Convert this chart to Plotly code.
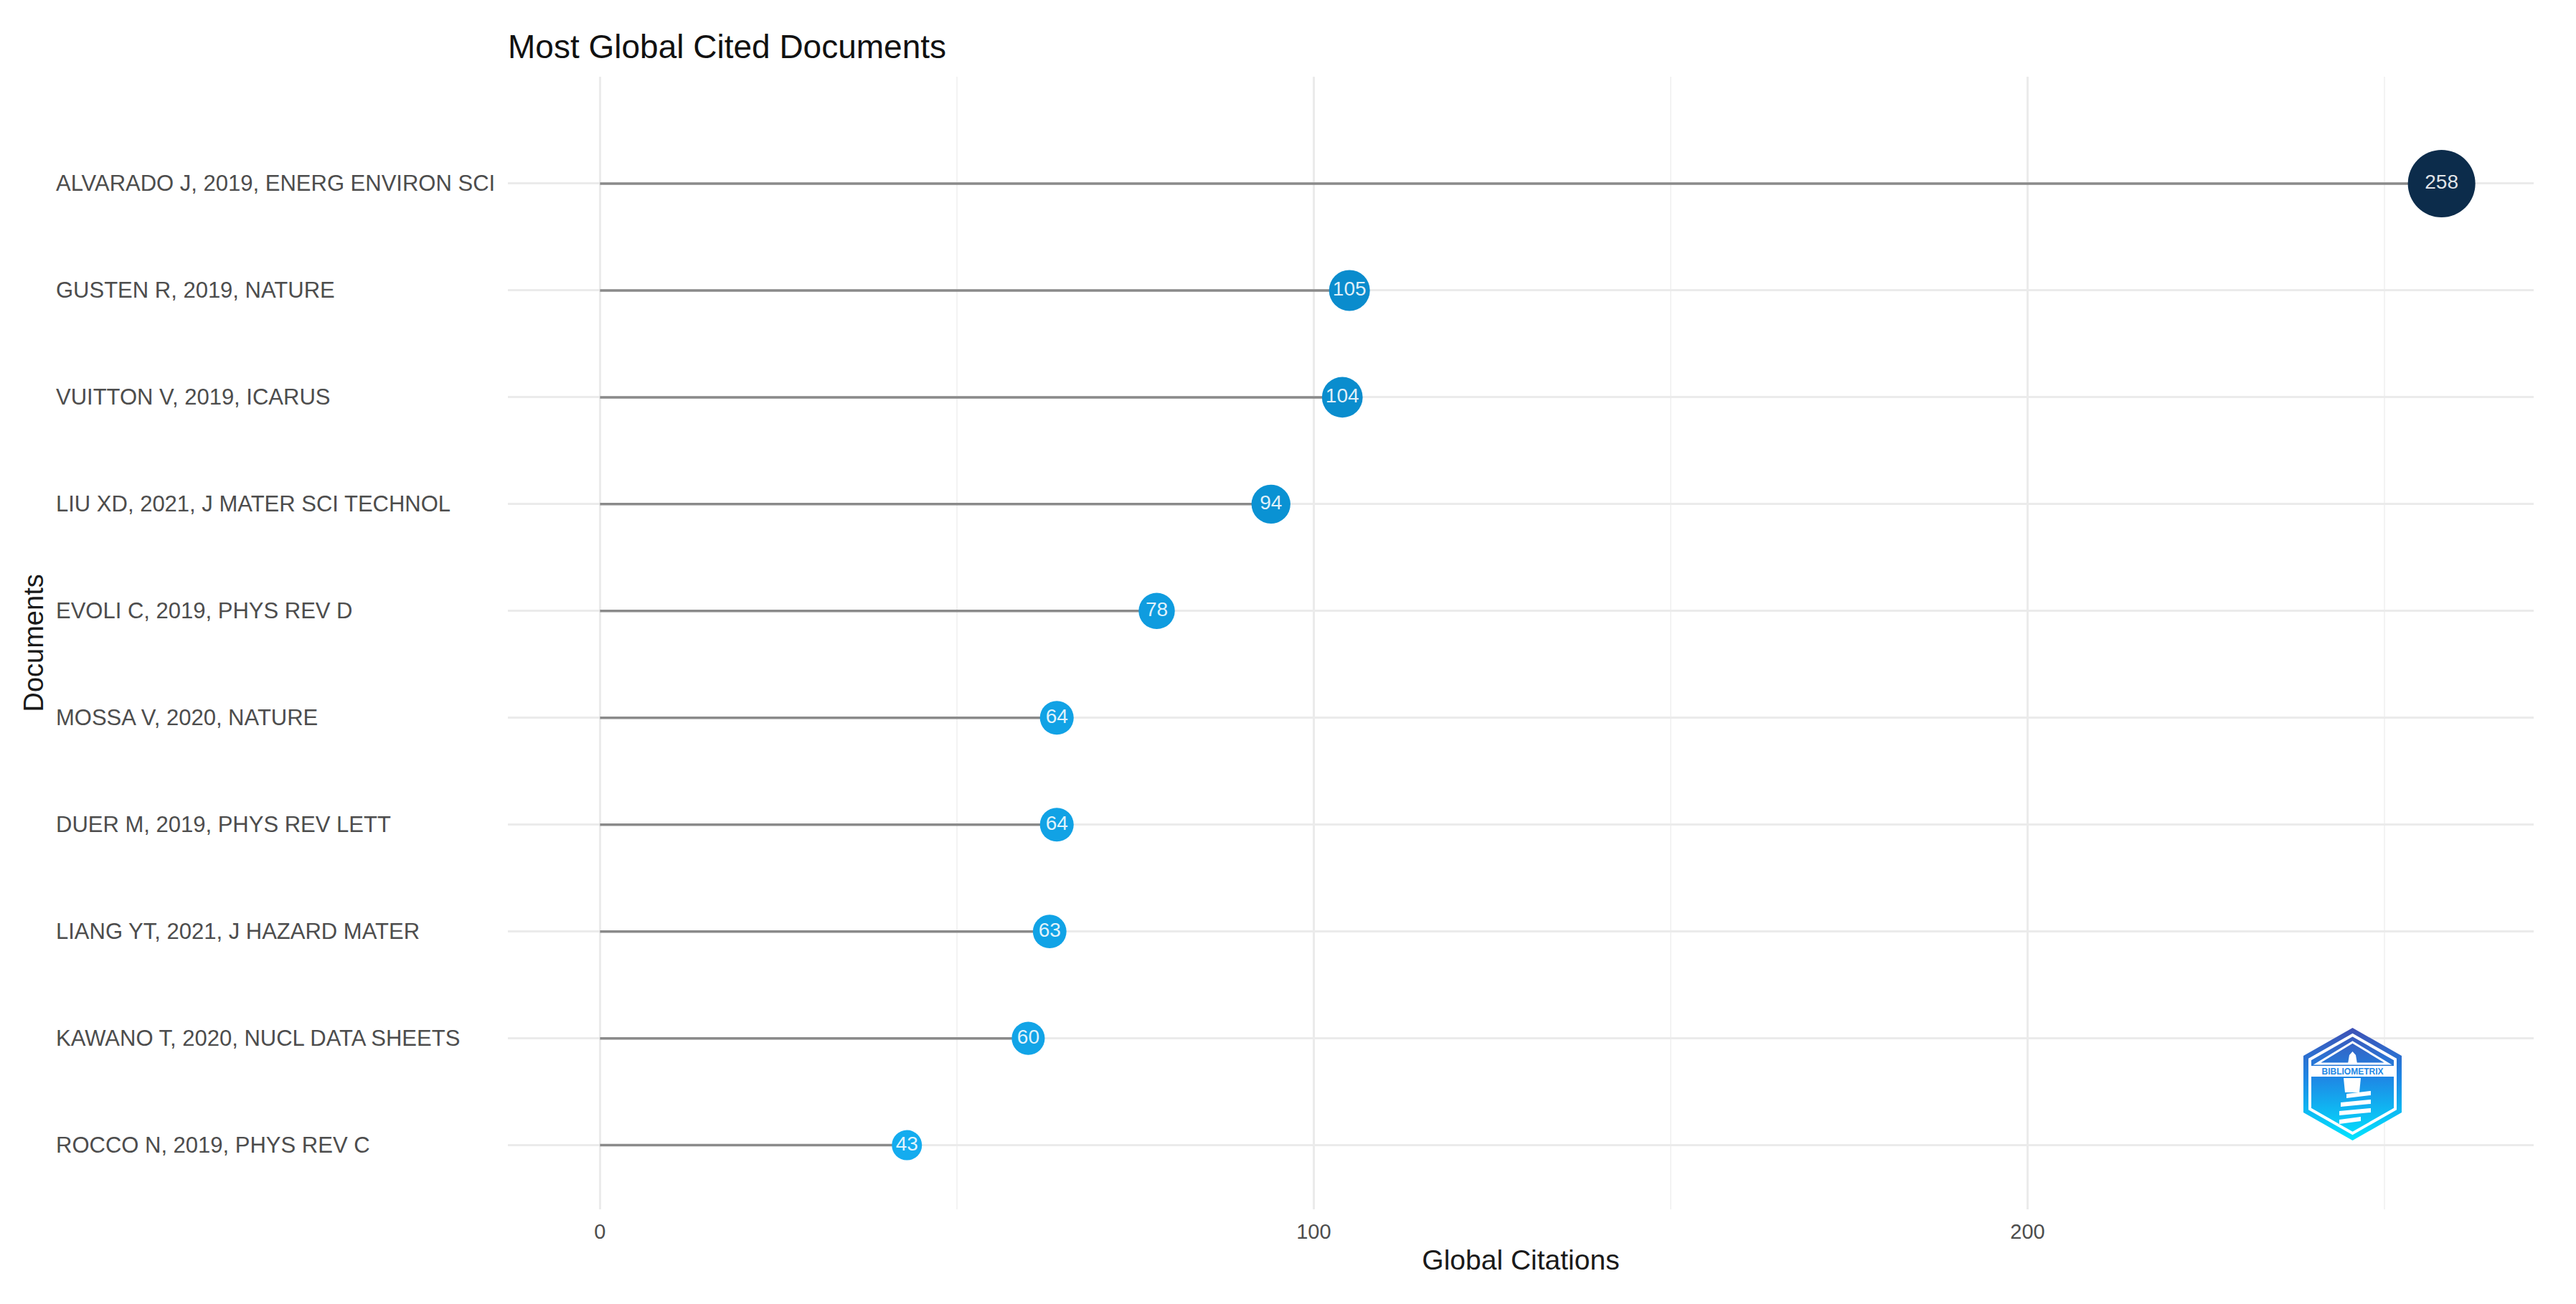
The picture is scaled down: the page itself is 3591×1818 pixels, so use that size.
import base64
import plotly.graph_objects as go

# ---- data (top of chart first) ----
documents = [
    "ALVARADO J, 2019, ENERG ENVIRON SCI",
    "GUSTEN R, 2019, NATURE",
    "VUITTON V, 2019, ICARUS",
    "LIU XD, 2021, J MATER SCI TECHNOL",
    "EVOLI C, 2019, PHYS REV D",
    "MOSSA V, 2020, NATURE",
    "DUER M, 2019, PHYS REV LETT",
    "LIANG YT, 2021, J HAZARD MATER",
    "KAWANO T, 2020, NUCL DATA SHEETS",
    "ROCCO N, 2019, PHYS REV C",
]
citations = [258, 105, 104, 94, 78, 64, 64, 63, 60, 43]
x_ticks = [0, 100, 200]

FONT = "Liberation Sans, Arial, Helvetica, sans-serif"

# bottom-to-top order for the category axis
order = documents[::-1]

vmin, vmax = min(citations), max(citations)
sizes = [42 + 52 * (v - vmin) / (vmax - vmin) for v in citations]

L, R, T, B = 700, 67, 99, 140
W, H = 3591, 1818
pw, ph = W - L - R, H - T - B

# stems
seg_x, seg_y = [], []
for d, v in zip(documents, citations):
    seg_x += [0, v, None]
    seg_y += [d, d, None]

fig = go.Figure()
fig.add_trace(go.Scatter(
    x=seg_x, y=seg_y, mode="lines",
    line=dict(color="#8a8a8a", width=3.5),
    hoverinfo="skip", showlegend=False,
))
fig.add_trace(go.Scatter(
    x=citations, y=documents, mode="markers+text",
    text=[str(v) for v in citations], textposition="middle center",
    textfont=dict(family=FONT, size=28, color="rgba(255,255,255,0.88)"),
    marker=dict(
        size=sizes, color=citations, cmin=vmin, cmax=vmax, opacity=1,
        colorscale=[[0.0, "#14acef"], [0.16, "#0f9cdf"], [0.237, "#0a92d3"],
                    [0.288, "#0a8ccd"], [0.65, "#0b5a8f"], [1.0, "#0c2c4b"]],
        showscale=False, line=dict(width=0),
    ),
    opacity=1,
    showlegend=False,
))

annotations = []
for d in documents:
    annotations.append(dict(
        x=(68 - L) / pw, xref="paper", y=d, yref="y", text=d, showarrow=False,
        xanchor="left", yanchor="middle",
        font=dict(family=FONT, size=31, color="#4d4d4d"),
    ))
annotations.append(dict(
    x=(38 - L) / pw, xref="paper", y=0.5, yref="paper", text="Documents",
    textangle=-90, showarrow=False, xanchor="center", yanchor="middle",
    font=dict(family=FONT, size=38, color="#1a1a1a"),
))

# logo (decorative) as inline SVG
svg = """<svg xmlns='http://www.w3.org/2000/svg' width='137' height='157' viewBox='0 0 137 157'>
<defs><linearGradient id='g' x1='0' y1='0' x2='0' y2='1'>
<stop offset='0' stop-color='#3f51b5'/><stop offset='0.45' stop-color='#1e88e5'/>
<stop offset='1' stop-color='#00e5ff'/></linearGradient></defs>
<polygon points='68.5,0 137,39 137,118 68.5,157 0,118 0,39' fill='url(#g)'/>
<polygon points='68.5,10 128,44 128,113 68.5,147 9,113 9,44' fill='none' stroke='white' stroke-width='4'/>
<polygon points='68.5,20 118,50 19,50' fill='none' stroke='white' stroke-width='3'/>
<path d='M62,50 L64,38 L68.5,33 L73,38 L75,50 Z' fill='white'/>
<rect x='10' y='53' width='117' height='15' fill='white'/>
<text x='68.5' y='65' font-family='Liberation Sans, Arial' font-weight='bold' font-size='12' fill='#1e88e5' text-anchor='middle'>BIBLIOMETRIX</text>
<path d='M56,70 L80,70 L78,90 L58,90 Z' fill='white'/>
<path d='M60,92 L94,88 L94,94 L60,98 Z M52,104 L94,100 L94,106 L52,110 Z M50,116 L94,112 L94,118 L50,122 Z M50,128 L80,124 L80,130 L50,134 Z' fill='white'/>
</svg>"""
logo_src = "data:image/svg+xml;base64," + base64.b64encode(svg.encode()).decode()

fig.update_layout(
    width=W, height=H,
    margin=dict(l=L, r=R, t=T, b=B, pad=0),
    paper_bgcolor="white", plot_bgcolor="white",
    font=dict(family=FONT, color="#4d4d4d"),
    title=dict(
        text="Most Global Cited Documents", x=0, xref="paper", xanchor="left",
        y=1 - 57 / H, yref="container", yanchor="middle",
        font=dict(family=FONT, size=46, color="#111111"),
    ),
    xaxis=dict(
        range=[-12.9, 270.9], tickvals=x_ticks, ticktext=[str(t) for t in x_ticks],
        showgrid=True, gridcolor="#ebebeb", gridwidth=2.5, zeroline=False,
        showline=False, ticks="outside", ticklen=5, tickcolor="rgba(0,0,0,0)",
        tickfont=dict(family=FONT, size=29, color="#4d4d4d"),
        minor=dict(tickvals=[50, 150, 250], showgrid=True, gridcolor="#f3f3f3", gridwidth=1.5),
        title=dict(text="Global Citations", standoff=10,
                   font=dict(family=FONT, size=39, color="#1a1a1a")),
    ),
    yaxis=dict(
        type="category", categoryorder="array", categoryarray=order,
        range=[-0.6, 10.0], showgrid=True, gridcolor="#ebebeb", gridwidth=2.5,
        zeroline=False, showline=False, showticklabels=False, ticks="",
    ),
    annotations=annotations,
    images=[dict(
        source=logo_src, xref="paper", yref="paper",
        x=(3203 - L) / pw, y=(H - B - 1425) / ph, sizex=137 / pw, sizey=157 / ph,
        xanchor="left", yanchor="top", sizing="stretch", layer="above",
    )],
)

fig.write_html("out.html")
